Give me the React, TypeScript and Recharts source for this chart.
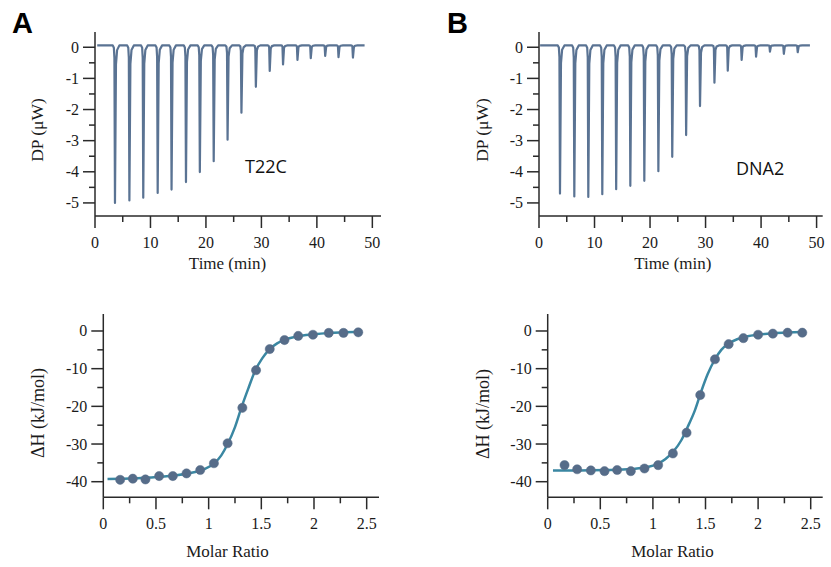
import React from 'react';
import { LineChart, ComposedChart, Line, XAxis, YAxis } from 'recharts';

// raw thermograms: time of each injection peak (min) and its depth (µW)
const peakTimesA = [3.6, 6.2, 8.7, 11.3, 13.8, 16.4, 18.9, 21.4, 23.9, 26.4, 29.0, 31.5, 33.9, 36.5, 38.9, 41.5, 43.9, 46.5];
const peakDepthsA = [-5.0, -4.92, -4.83, -4.68, -4.57, -4.33, -4.01, -3.66, -2.97, -2.1, -1.27, -0.76, -0.55, -0.41, -0.35, -0.28, -0.32, -0.33];
const peakTimesB = [3.78, 6.36, 8.88, 11.4, 13.9, 16.45, 18.97, 21.5, 24.0, 26.5, 29.0, 31.6, 34.0, 36.5, 39.1, 41.6, 44.1, 46.6];
const peakDepthsB = [-4.7, -4.79, -4.81, -4.72, -4.56, -4.45, -4.29, -3.98, -3.52, -2.82, -1.89, -1.14, -0.75, -0.41, -0.3, -0.14, -0.21, -0.16];
const baselineA = 0.06;
const baselineB = 0.06;
const runA = [0.4, 48.6];
const runB = [0.2, 48.8];

// shape of one injection peak: time offset from the peak (min), fraction of the depth
const spikeOffsets = [-0.4, -0.2, -0.1, 0, 0.18, 0.38, 0.8];
const spikeFractions = [0, 0.015, 0.08, 1, 0.12, 0.03, 0];

// integrated heats
const ratioA = [0.16, 0.28, 0.4, 0.53, 0.66, 0.79, 0.92, 1.05, 1.18, 1.32, 1.45, 1.58, 1.72, 1.85, 1.99, 2.14, 2.28, 2.42];
const heatA = [-39.5, -39.2, -39.4, -38.5, -38.5, -37.8, -36.9, -35.1, -29.8, -20.4, -10.4, -4.8, -2.4, -1.3, -1.0, -0.5, -0.5, -0.35];
const ratioB = [0.16, 0.28, 0.41, 0.54, 0.66, 0.79, 0.92, 1.05, 1.19, 1.32, 1.45, 1.59, 1.72, 1.86, 2.0, 2.14, 2.28, 2.42];
const heatB = [-35.6, -36.7, -37.0, -37.2, -36.9, -37.2, -36.5, -35.6, -32.5, -27.0, -17.0, -7.5, -3.5, -1.9, -1.0, -0.7, -0.45, -0.45];

// fitted curves
const fitRatioA = [0.04, 0.3, 0.55, 0.8, 0.95, 1.05, 1.12, 1.18, 1.25, 1.31, 1.38, 1.44, 1.51, 1.58, 1.65, 1.72, 1.85, 2.0, 2.14, 2.28, 2.43];
const fitHeatA = [-39.3, -39.1, -38.7, -37.8, -36.8, -35.2, -33.0, -30.0, -25.5, -20.4, -15.0, -10.6, -7.2, -4.8, -3.3, -2.3, -1.4, -0.9, -0.5, -0.35, -0.25];
const fitRatioB = [0.05, 0.3, 0.55, 0.8, 0.95, 1.05, 1.12, 1.2, 1.27, 1.33, 1.4, 1.46, 1.52, 1.59, 1.65, 1.72, 1.8, 1.9, 2.0, 2.14, 2.28, 2.43];
const fitHeatB = [-37.0, -37.0, -36.9, -36.6, -36.1, -35.2, -34.0, -31.8, -29.0, -25.5, -21.0, -16.0, -11.5, -7.5, -5.0, -3.3, -2.2, -1.4, -1.0, -0.6, -0.4, -0.3];

const timeTicks = [0, 5, 10, 15, 20, 25, 30, 35, 40, 45, 50];
const dpTicks = [-5, -4.5, -4, -3.5, -3, -2.5, -2, -1.5, -1, -0.5, 0];
const ratioTicks = [0, 0.25, 0.5, 0.75, 1, 1.25, 1.5, 1.75, 2, 2.25, 2.5];
const heatTicks = [-40, -35, -30, -25, -20, -15, -10, -5, 0];

const AXIS = '#2a2a2a';
const TRACE = '#5a7393';
const DOT = '#566c89';
const FIT = '#3a87a2';
const SERIF = '"Liberation Serif", "Times New Roman", serif';

function buildTrace(times: number[], depths: number[], base: number, run: number[]) {
  const rows: { t: number; dp: number }[] = [{ t: run[0], dp: base }];
  times.forEach((t, i) => {
    spikeOffsets.forEach((o, k) => {
      rows.push({ t: t + o, dp: base + spikeFractions[k] * (depths[i] - base) });
    });
  });
  rows.push({ t: run[1], dp: base });
  return rows;
}

const zip = (xs: number[], ys: number[]) => xs.map((x, i) => ({ x, y: ys[i] }));

const isMajor = (v: number, step: number) => Math.abs(v / step - Math.round(v / step)) < 1e-6;

const makeXTick = (step: number) => (props: any) => {
  const { x, y, payload } = props;
  const major = isMajor(payload.value, step);
  return (
    <g>
      <line x1={x} y1={y} x2={x} y2={y + (major ? 12 : 6)} stroke={AXIS} strokeWidth={1.5} />
      {major && (
        <text x={x} y={y + 31.5} textAnchor="middle" fontFamily={SERIF} fontSize={16} fill="#1a1a1a">
          {String(payload.value)}
        </text>
      )}
    </g>
  );
};

const makeYTick = (step: number) => (props: any) => {
  const { x, y, payload } = props;
  const major = isMajor(payload.value, step);
  return (
    <g>
      <line x1={x - (major ? 12 : 6)} y1={y} x2={x} y2={y} stroke={AXIS} strokeWidth={1.5} />
      {major && (
        <text x={x - 16} y={y + 5.5} textAnchor="end" fontFamily={SERIF} fontSize={16} fill="#1a1a1a">
          {String(payload.value)}
        </text>
      )}
    </g>
  );
};

const traceA = buildTrace(peakTimesA, peakDepthsA, baselineA, runA);
const traceB = buildTrace(peakTimesB, peakDepthsB, baselineB, runB);

const Thermogram = ({ data, left, width, yWidth, right, xMax }: any) => (
  <div style={{ position: 'absolute', left, top: 0 }}>
    <LineChart width={width} height={290} data={data} margin={{ top: 32, right, left: 0, bottom: 14 }}>
      <XAxis
        type="number"
        dataKey="t"
        domain={[0, xMax]}
        ticks={timeTicks}
        interval={0}
        tickSize={0}
        tickMargin={0}
        tickLine={false}
        height={60}
        axisLine={{ stroke: AXIS, strokeWidth: 1.5 }}
        tick={makeXTick(10)}
        allowDataOverflow
      />
      <YAxis
        type="number"
        domain={[-5.42, 0.49]}
        ticks={dpTicks}
        interval={0}
        tickSize={0}
        tickMargin={0}
        tickLine={false}
        width={yWidth}
        axisLine={{ stroke: AXIS, strokeWidth: 1.5 }}
        tick={makeYTick(1)}
        allowDataOverflow
      />
      <Line
        type="linear"
        dataKey="dp"
        stroke={TRACE}
        strokeWidth={2.2}
        strokeLinejoin="round"
        dot={false}
        isAnimationActive={false}
      />
    </LineChart>
  </div>
);

const Isotherm = ({ points, fit, left, width, yWidth, right, xMax }: any) => (
  <div style={{ position: 'absolute', left, top: 300 }}>
    <ComposedChart width={width} height={267} margin={{ top: 14, right, left: 0, bottom: 9.7 }}>
      <XAxis
        type="number"
        dataKey="x"
        domain={[0, xMax]}
        ticks={ratioTicks}
        interval={0}
        tickSize={0}
        tickMargin={0}
        tickLine={false}
        height={60}
        axisLine={{ stroke: AXIS, strokeWidth: 1.5 }}
        tick={makeXTick(0.5)}
        allowDataOverflow
      />
      <YAxis
        type="number"
        dataKey="y"
        domain={[-44.14, 4.51]}
        ticks={heatTicks}
        interval={0}
        tickSize={0}
        tickMargin={0}
        tickLine={false}
        width={yWidth}
        axisLine={{ stroke: AXIS, strokeWidth: 1.5 }}
        tick={makeYTick(10)}
        allowDataOverflow
      />
      <Line
        data={fit}
        type="monotone"
        dataKey="y"
        stroke={FIT}
        strokeWidth={2.5}
        dot={false}
        isAnimationActive={false}
      />
      <Line
        data={points}
        type="linear"
        dataKey="y"
        stroke="none"
        dot={{ r: 4.6, fill: DOT, stroke: DOT, strokeWidth: 0.5 }}
        isAnimationActive={false}
      />
    </ComposedChart>
  </div>
);

export default function App() {
  return (
    <div style={{ position: 'absolute', left: 0, top: 0, width: 831, height: 567, background: '#fff' }}>
      <Thermogram data={traceA} left={0} width={400} yWidth={95} right={19} xMax={51.56} />
      <Thermogram data={traceB} left={440} width={391} yWidth={99} right={8.3} xMax={51.1} />
      <Isotherm points={zip(ratioA, heatA)} fit={zip(fitRatioA, fitHeatA)} left={0} width={400} yWidth={103.3} right={21} xMax={2.617} />
      <Isotherm points={zip(ratioB, heatB)} fit={zip(fitRatioB, fitHeatB)} left={440} width={391} yWidth={107.7} right={8.3} xMax={2.614} />
      <svg width={831} height={567} style={{ position: 'absolute', left: 0, top: 0, pointerEvents: 'none' }}>
        <text x={12} y={33} fontFamily='"Liberation Sans", Arial, sans-serif' fontWeight="bold" fontSize={29} fill="#000">A</text>
        <text x={447} y={33} fontFamily='"Liberation Sans", Arial, sans-serif' fontWeight="bold" fontSize={29} fill="#000">B</text>
        <text x={245} y={173} fontFamily='"Open Sans", sans-serif' fontSize={18} fill="#111">T22C</text>
        <text x={736} y={175} fontFamily='"Open Sans", sans-serif' fontSize={18} fill="#111">DNA2</text>
        <text x={227.5} y={269} textAnchor="middle" fontFamily={SERIF} fontSize={17} fill="#1a1a1a">Time (min)</text>
        <text x={672.8} y={269} textAnchor="middle" fontFamily={SERIF} fontSize={17} fill="#1a1a1a">Time (min)</text>
        <text x={227.5} y={557} textAnchor="middle" fontFamily={SERIF} fontSize={17} fill="#1a1a1a">Molar Ratio</text>
        <text x={672.5} y={557} textAnchor="middle" fontFamily={SERIF} fontSize={17} fill="#1a1a1a">Molar Ratio</text>
        <text x={42.5} y={130} transform="rotate(-90 42.5 130)" textAnchor="middle" fontFamily={SERIF} fontSize={17.5} fill="#1a1a1a">DP (μW)</text>
        <text x={488} y={130} transform="rotate(-90 488 130)" textAnchor="middle" fontFamily={SERIF} fontSize={17.5} fill="#1a1a1a">DP (μW)</text>
        <text x={43.5} y={413} transform="rotate(-90 43.5 413)" textAnchor="middle" fontFamily={SERIF} fontSize={18} fill="#1a1a1a">ΔH (kJ/mol)</text>
        <text x={489} y={414} transform="rotate(-90 489 414)" textAnchor="middle" fontFamily={SERIF} fontSize={18} fill="#1a1a1a">ΔH (kJ/mol)</text>
      </svg>
    </div>
  );
}
